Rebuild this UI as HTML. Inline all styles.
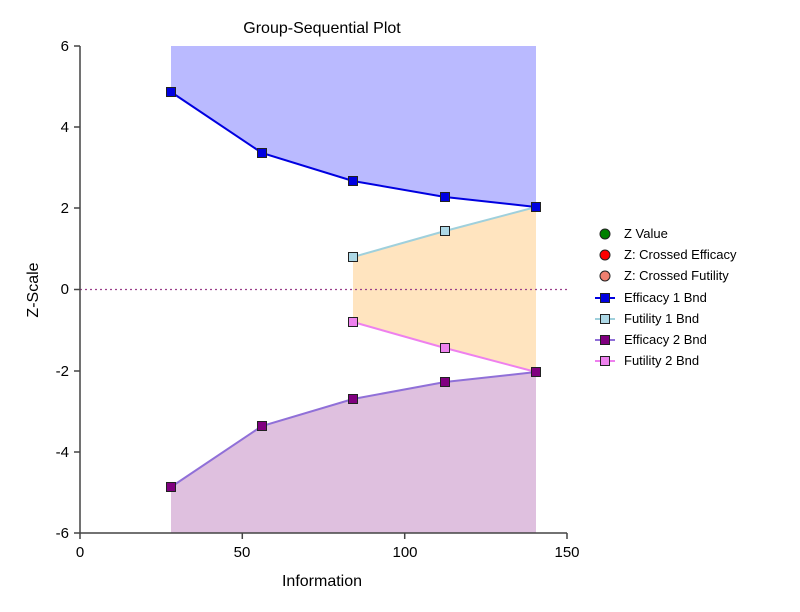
<!DOCTYPE html>
<html><head><style>body{margin:0;background:#fff}svg{display:block;font-family:"Liberation Sans",Arial,sans-serif}</style></head><body>
<svg width="800" height="612" viewBox="0 0 800 612">
<text x="322" y="33" font-size="16" text-anchor="middle">Group-Sequential Plot</text>
<polygon points="171,46 536,46 536,207 445,197 353,181 262,153 171,92" fill="#babaff"/>
<polygon points="171,533 536,533 536,372 445,382 353,399 262,426 171,487" fill="#dfc0df"/>
<polygon points="353,257 445,231 536,207 536,372 445,348 353,322" fill="#ffe4bf"/>
<line x1="80" y1="289.5" x2="567" y2="289.5" stroke="#9a3f8a" stroke-width="1.3" stroke-dasharray="2,3"/>
<polyline points="171,92 262,153 353,181 445,197 536,207" fill="none" stroke="#0000e0" stroke-width="2"/>
<polyline points="353,257 445,231 536,207" fill="none" stroke="#9fd0dc" stroke-width="2"/>
<polyline points="353,322 445,348 536,372" fill="none" stroke="#ee80ee" stroke-width="2"/>
<polyline points="171,487 262,426 353,399 445,382 536,372" fill="none" stroke="#9070d8" stroke-width="2"/>
<g stroke="#222" stroke-width="1">
<g fill="#0000e0"><rect x="166.5" y="87.5" width="9" height="9"/><rect x="257.5" y="148.5" width="9" height="9"/><rect x="348.5" y="176.5" width="9" height="9"/><rect x="440.5" y="192.5" width="9" height="9"/><rect x="531.5" y="202.5" width="9" height="9"/></g>
<g fill="#add8e6"><rect x="348.5" y="252.5" width="9" height="9"/><rect x="440.5" y="226.5" width="9" height="9"/></g>
<g fill="#ee82ee"><rect x="348.5" y="317.5" width="9" height="9"/><rect x="440.5" y="343.5" width="9" height="9"/></g>
<g fill="#800080"><rect x="166.5" y="482.5" width="9" height="9"/><rect x="257.5" y="421.5" width="9" height="9"/><rect x="348.5" y="394.5" width="9" height="9"/><rect x="440.5" y="377.5" width="9" height="9"/><rect x="531.5" y="367.5" width="9" height="9"/></g>
</g>
<g stroke="#444" stroke-width="1.5" fill="none">
<path d="M80,46 V533 H567"/>
<path d="M74,46H80M74,127H80M74,208H80M74,289.5H80M74,371H80M74,452H80M74,533H80"/>
<path d="M80,533V539M242.3,533V539M404.7,533V539M567,533V539"/>
</g>
<g font-size="15" text-anchor="end">
<text x="69" y="51">6</text><text x="69" y="132">4</text><text x="69" y="213">2</text><text x="69" y="294">0</text><text x="69" y="376">-2</text><text x="69" y="457">-4</text><text x="69" y="538">-6</text>
</g>
<g font-size="15" text-anchor="middle">
<text x="80" y="557">0</text><text x="242" y="557">50</text><text x="405" y="557">100</text><text x="567" y="557">150</text>
</g>
<text x="322" y="586" font-size="16" text-anchor="middle">Information</text>
<text transform="translate(38,290) rotate(-90)" font-size="16" text-anchor="middle">Z-Scale</text>
<g font-size="13">
<circle cx="605" cy="234" r="5" fill="#008000" stroke="#222"/><text x="624" y="238">Z Value</text>
<circle cx="605" cy="255" r="5" fill="#ff0000" stroke="#222"/><text x="624" y="259">Z: Crossed Efficacy</text>
<circle cx="605" cy="276" r="5" fill="#f08070" stroke="#222"/><text x="624" y="280">Z: Crossed Futility</text>
<line x1="595" y1="298" x2="615" y2="298" stroke="#0000e0" stroke-width="2"/><rect x="600.5" y="293.5" width="9" height="9" fill="#0000e0" stroke="#222"/><text x="624" y="302">Efficacy 1 Bnd</text>
<line x1="595" y1="319" x2="615" y2="319" stroke="#9fd0dc" stroke-width="2"/><rect x="600.5" y="314.5" width="9" height="9" fill="#add8e6" stroke="#222"/><text x="624" y="323">Futility 1 Bnd</text>
<line x1="595" y1="340" x2="615" y2="340" stroke="#9070d8" stroke-width="2"/><rect x="600.5" y="335.5" width="9" height="9" fill="#800080" stroke="#222"/><text x="624" y="344">Efficacy 2 Bnd</text>
<line x1="595" y1="361" x2="615" y2="361" stroke="#ee80ee" stroke-width="2"/><rect x="600.5" y="356.5" width="9" height="9" fill="#ee82ee" stroke="#222"/><text x="624" y="365">Futility 2 Bnd</text>
</g>
</svg>
</body></html>
